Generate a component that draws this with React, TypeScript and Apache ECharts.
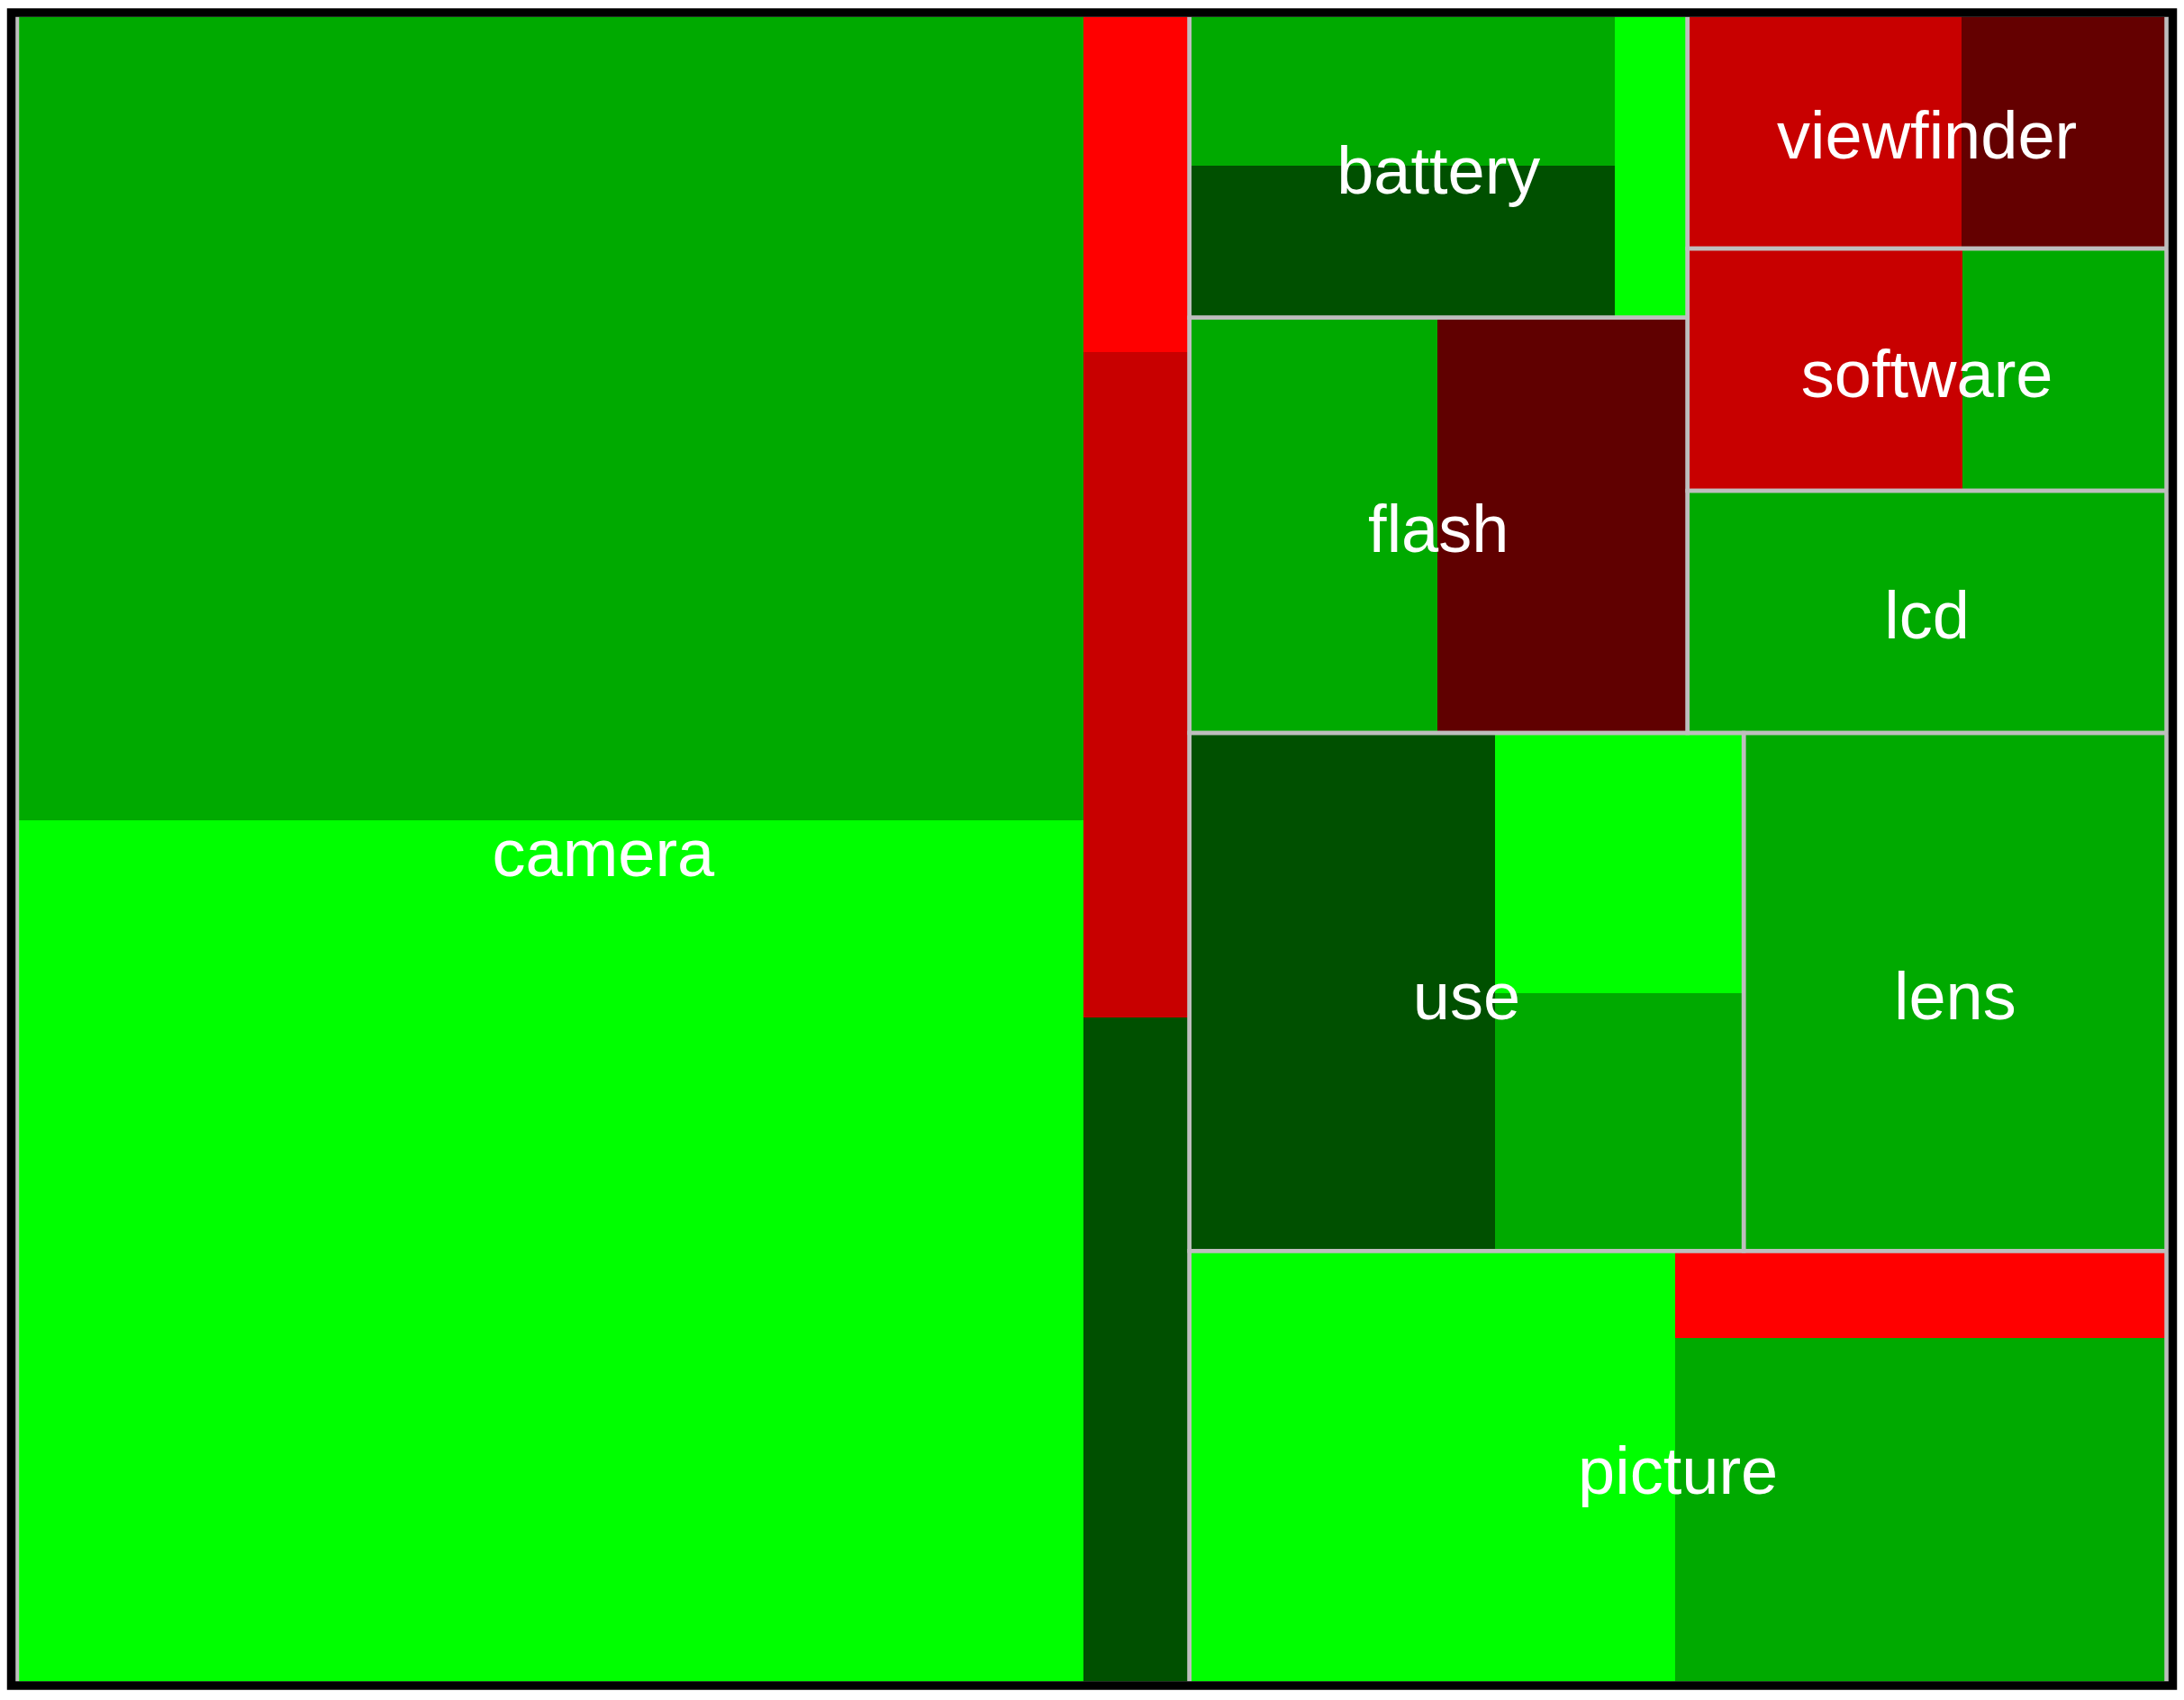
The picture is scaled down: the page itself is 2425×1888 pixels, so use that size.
import React, { useEffect, useRef } from "react";
import * as echarts from "echarts";

// ---- data ----
const aspects = ["camera", "battery", "flash", "viewfinder", "software", "lcd", "use", "lens", "picture"];

// nesting of the aspect tiles (each level is split across its longer side, in order)
const aspectArrangement: any[] = [
  "camera",
  [
    [["battery", "flash"], ["viewfinder", "software", "lcd"]],
    ["use", "lens"],
    "picture",
  ],
];

const cellAspect = [
  "camera", "camera", "camera", "camera", "camera",
  "battery", "battery", "battery",
  "flash", "flash",
  "viewfinder", "viewfinder",
  "software", "software",
  "lcd",
  "use", "use", "use",
  "lens",
  "picture", "picture", "picture",
];
const cellColumn = [0, 0, 1, 1, 1, 0, 0, 1, 0, 1, 0, 1, 0, 1, 0, 0, 1, 1, 0, 0, 1, 1];
const cellCount = [1059, 1135, 44, 87, 87, 79, 80, 27, 127, 128, 79, 59, 82, 61, 143, 195, 80, 79, 270, 259, 53, 209];
const cellSentiment = [
  0.667, 1, -1, -0.784, 0.314,
  0.667, 0.314, 1,
  0.667, -0.376,
  -0.784, -0.392,
  -0.784, 0.667,
  0.667,
  0.314, 1, 0.667,
  0.667,
  1, -1, 0.667,
];

// ---- styling / layout constants ----
const GRID = { left: 19, top: 16.5, width: 2386.5, height: 1853 };
const BORDER_GRAY = "#bebebe";
const LABEL_FONT = '"Liberation Sans", Arial, Helvetica, sans-serif';

function sentimentColor(s: number) {
  const v = Math.round(Math.abs(s) * 255);
  return s >= 0 ? `rgb(0,${v},0)` : `rgb(${v},0,0)`;
}

type R = { x: number; y: number; w: number; h: number };

const aspectTotal = (name: string) =>
  cellCount.reduce((s, v, i) => (cellAspect[i] === name ? s + v : s), 0);
const nodeTotal = (node: any): number =>
  typeof node === "string" ? aspectTotal(node) : node.reduce((s: number, c: any) => s + nodeTotal(c), 0);

function splitRect(rect: R, weights: number[], alongX: boolean): R[] {
  const sum = weights.reduce((a, b) => a + b, 0);
  let acc = 0;
  return weights.map((w) => {
    const f0 = acc / sum;
    acc += w;
    const f1 = acc / sum;
    return alongX
      ? { x: rect.x + f0 * rect.w, y: rect.y, w: (f1 - f0) * rect.w, h: rect.h }
      : { x: rect.x, y: rect.y + f0 * rect.h, w: rect.w, h: (f1 - f0) * rect.h };
  });
}

function layoutAspects(node: any, rect: R, out: Record<string, R>) {
  if (typeof node === "string") {
    out[node] = rect;
    return;
  }
  const rs = splitRect(rect, node.map(nodeTotal), rect.w >= rect.h);
  node.forEach((child: any, i: number) => layoutAspects(child, rs[i], out));
}

function layoutCells(aspectRects: Record<string, R>): R[] {
  const rects: R[] = new Array(cellCount.length);
  aspects.forEach((name) => {
    const r = aspectRects[name];
    const idx = cellCount.map((_, i) => i).filter((i) => cellAspect[i] === name);
    const cols = Array.from(new Set(idx.map((i) => cellColumn[i])));
    const colTotals = cols.map((c) =>
      idx.filter((i) => cellColumn[i] === c).reduce((s, i) => s + cellCount[i], 0)
    );
    const colRects = splitRect(r, colTotals, true);
    cols.forEach((c, k) => {
      const members = idx.filter((i) => cellColumn[i] === c);
      const rs = splitRect(colRects[k], members.map((i) => cellCount[i]), false);
      members.forEach((i, m) => (rects[i] = rs[m]));
    });
  });
  return rects;
}

export default function App() {
  const ref = useRef<HTMLDivElement>(null);

  useEffect(() => {
    if (!ref.current) return;
    const chart = echarts.init(ref.current, null, { renderer: "svg" });

    const aspectRects: Record<string, R> = {};
    layoutAspects(aspectArrangement, { x: 0, y: 0, w: GRID.width, h: GRID.height }, aspectRects);
    const cellRects = layoutCells(aspectRects);

    const option: any = {
      animation: false,
      grid: { left: GRID.left, top: GRID.top, width: GRID.width, height: GRID.height, show: false },
      xAxis: { type: "value", min: 0, max: GRID.width, show: false },
      yAxis: { type: "value", min: 0, max: GRID.height, inverse: true, show: false },
      series: [
        {
          type: "custom",
          name: "cells",
          silent: true,
          z: 2,
          data: cellRects.map((r, i) => ({
            name: cellAspect[i],
            value: [r.x, r.y, r.x + r.w, r.y + r.h, cellSentiment[i]],
          })),
          renderItem: (params: any, api: any) => {
            const p0 = api.coord([api.value(0), api.value(1)]);
            const p1 = api.coord([api.value(2), api.value(3)]);
            const x0 = Math.round(p0[0]);
            const y0 = Math.round(p0[1]);
            const x1 = Math.round(p1[0]);
            const y1 = Math.round(p1[1]);
            return {
              type: "rect",
              shape: { x: x0, y: y0, width: x1 - x0, height: y1 - y0 },
              style: { fill: sentimentColor(api.value(4)), stroke: null },
            };
          },
        },
        {
          type: "custom",
          name: "aspects",
          silent: true,
          z: 3,
          data: aspects.map((name) => {
            const r = aspectRects[name];
            return { name, value: [r.x, r.y, r.x + r.w, r.y + r.h] };
          }),
          renderItem: (params: any, api: any) => {
            const p0 = api.coord([api.value(0), api.value(1)]);
            const p1 = api.coord([api.value(2), api.value(3)]);
            const x = p0[0];
            const y = p0[1];
            const w = p1[0] - p0[0];
            const h = p1[1] - p0[1];
            return {
              type: "group",
              children: [
                {
                  type: "rect",
                  shape: { x, y, width: w, height: h },
                  style: { fill: "none", stroke: BORDER_GRAY, lineWidth: 4.5 },
                },
                {
                  type: "text",
                  x: x + w / 2,
                  y: y + h / 2 + 4.5,
                  style: {
                    text: aspects[params.dataIndex],
                    fill: "#ffffff",
                    fontSize: 74,
                    fontFamily: LABEL_FONT,
                    align: "center",
                    verticalAlign: "middle",
                  },
                },
              ],
            };
          },
        },
      ],
      graphic: {
        elements: [
          {
            type: "rect",
            z: 100,
            silent: true,
            shape: { x: 12.5, y: 14, width: 2400, height: 1858 },
            style: { fill: "none", stroke: "#000000", lineWidth: 9.5 },
          },
        ],
      },
    };

    chart.setOption(option);
    return () => chart.dispose();
  }, []);

  return (
    <div
      ref={ref}
      style={{ position: "fixed", left: 0, top: 0, width: 2425, height: 1888, background: "#ffffff" }}
    />
  );
}
